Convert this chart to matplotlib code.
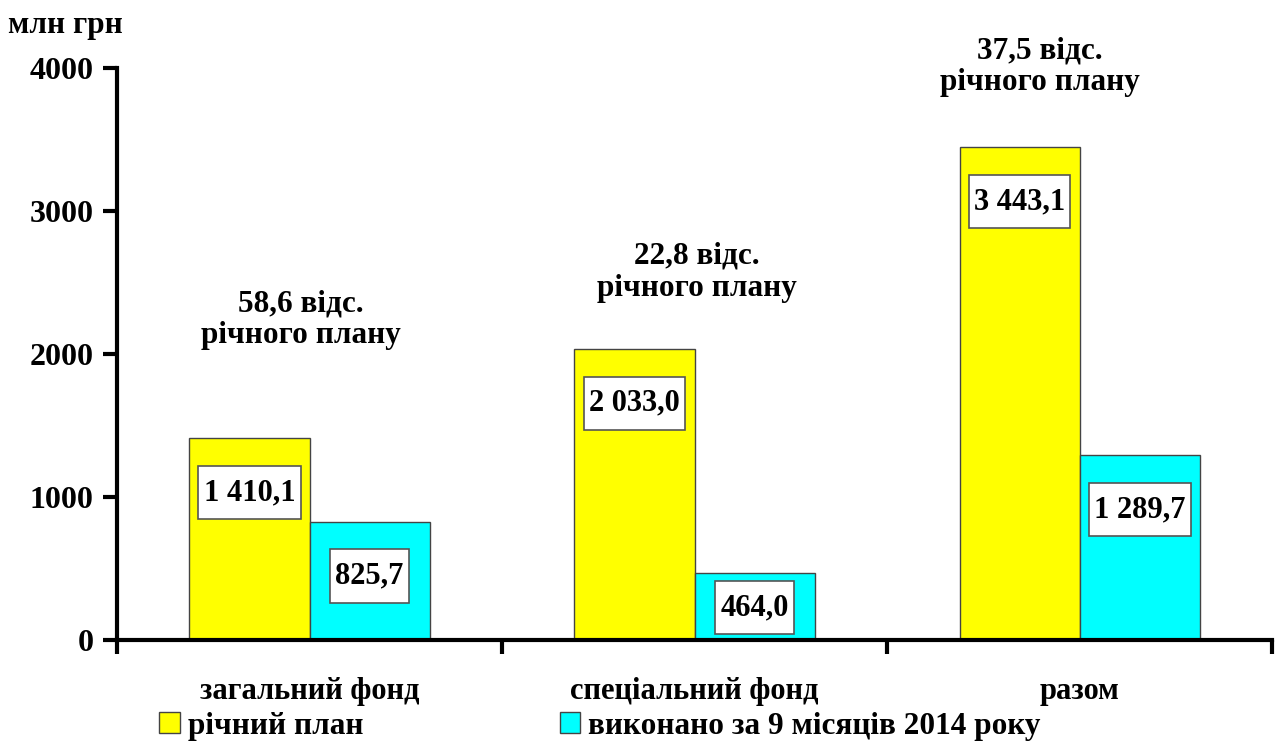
import matplotlib.pyplot as plt
import numpy as np
from matplotlib.patches import Patch
from matplotlib.path import Path

plt.rcParams['font.family'] = ['Liberation Serif', 'DejaVu Serif']
plt.rcParams['font.weight'] = 'bold'

categories = ["загальний фонд", "спеціальний фонд", "разом"]
plan = [1410.1, 2033.0, 3443.1]
done = [825.7, 464.0, 1289.7]
plan_labels = ["1 410,1", "2 033,0", "3 443,1"]
done_labels = ["825,7", "464,0", "1 289,7"]
pct_labels = ["58,6 відс.\nрічного плану", "22,8 відс.\nрічного плану", "37,5 відс.\nрічного плану"]
series_names = ["річний план", "виконано за 9 місяців 2014 року"]
yticks = [0, 1000, 2000, 3000, 4000]

# where the percent notes sit (x in category units, y in axis units)
pct_pos = [(-0.022, 2240), (1.006, 2570), (1.897, 4005)]


def label_box(x0, y0, width, height, mutation_size):
    # narrow at the sides, tall at top and bottom, like the Excel labels
    px = 0.17 * mutation_size
    py = 0.40 * mutation_size
    x0, x1 = x0 - px, x0 + width + px
    y0, y1 = y0 - py, y0 + height + py
    return Path([(x0, y0), (x1, y0), (x1, y1), (x0, y1), (x0, y0)], closed=True)


fig = plt.figure(figsize=(12.75, 7.44), dpi=100)
ax = fig.add_axes([0.0918, 0.140, 0.906, 0.769])

x = np.arange(len(categories))
w = 0.312
b1 = ax.bar(x - w / 2, plan, w, color="#FFFF00", edgecolor="#444444", linewidth=1)
b2 = ax.bar(x + w / 2, done, w, color="#00FFFF", edgecolor="#444444", linewidth=1)

box = dict(boxstyle=label_box, facecolor="white", edgecolor="#555555", linewidth=1.2)
for bars, labs in [(b1, plan_labels), (b2, done_labels)]:
    for r, lab in zip(bars, labs):
        # inside end, but kept above the axis for short bars
        yc = max(r.get_height() - 380, 225)
        ax.text(r.get_x() + r.get_width() / 2, yc, lab, ha="center", va="center",
                fontsize=22, fontweight="bold", bbox=box)

for (px_, py_), t in zip(pct_pos, pct_labels):
    ax.text(px_, py_, t, ha="center", va="center", fontsize=22.5,
            fontweight="bold", linespacing=1.12)

ax.set_xlim(-0.5, 2.5)
ax.set_ylim(0, 4000)
ax.set_yticks(yticks)
ax.set_yticklabels([str(v) for v in yticks], fontsize=23, fontweight="bold")
ax.set_xticks([-0.5, 0.5, 1.5, 2.5])
ax.set_xticklabels([])
ax.set_xticks(x, minor=True)
ax.set_xticklabels(categories, minor=True, fontsize=22, fontweight="bold")
ax.tick_params(axis="x", which="minor", length=0, pad=27)
ax.tick_params(axis="both", which="major", length=10, width=3, direction="out")
ax.tick_params(axis="y", pad=7)

for s in ["top", "right"]:
    ax.spines[s].set_visible(False)
for s in ["left", "bottom"]:
    ax.spines[s].set_linewidth(3)

fig.text(0.006, 0.966, "млн грн", fontsize=22.5, fontweight="bold", ha="left", va="center")

handles = [Patch(facecolor="#FFFF00", edgecolor="#444444"),
           Patch(facecolor="#00FFFF", edgecolor="#444444")]
fig.legend(handles, series_names, loc="center left", bbox_to_anchor=(0.125, 0.024),
           ncol=2, frameon=False, fontsize=22.5, handlelength=0.65, handleheight=0.65,
           handletextpad=0.25, columnspacing=6.3, borderaxespad=0, borderpad=0)

fig.savefig("out.png", dpi=100)
